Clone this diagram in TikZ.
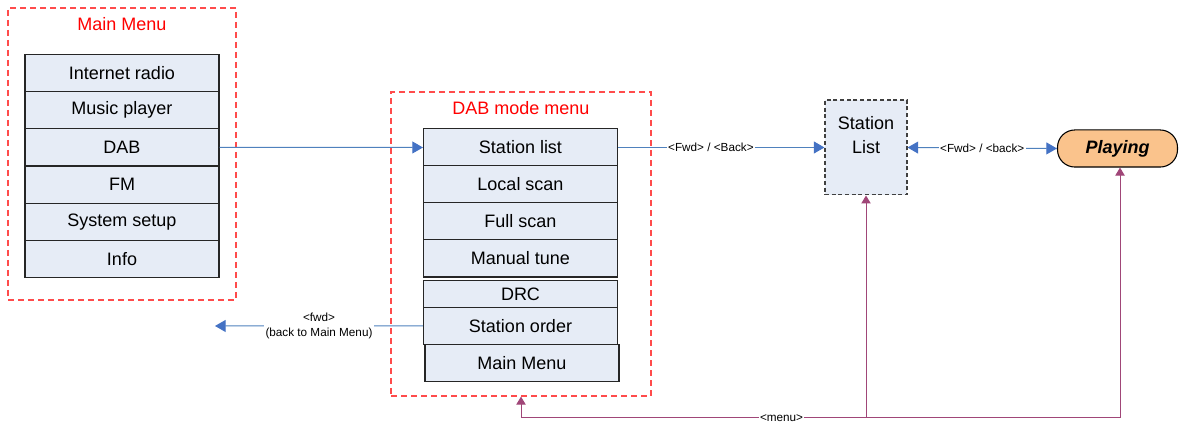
\documentclass[tikz,border=0pt]{standalone}
\usepackage{fontspec}
\setmainfont{Liberation Sans}
\usetikzlibrary{arrows.meta,positioning}
\definecolor{itemfill}{RGB}{230,236,246}
\definecolor{frameRed}{RGB}{255,75,75}
\definecolor{navblue}{RGB}{79,129,189}
\definecolor{navtip}{RGB}{68,114,196}
\definecolor{menupurple}{RGB}{160,70,120}
\definecolor{playfill}{RGB}{250,195,140}
\begin{document}
\begin{tikzpicture}[x=0.75pt,y=-0.75pt,
	item/.style={draw=black!85,fill=itemfill,line width=0.8pt,minimum width=145.5pt,minimum height=27.8pt,inner sep=0pt,font=\fontsize{13.5}{16}\selectfont},
	frame/.style={draw=frameRed,line width=0.9pt,dash pattern=on 4.5pt off 3pt},
	title/.style={text=red,font=\fontsize{13.5}{16}\selectfont},
	lbl/.style={fill=white,text=black,inner sep=1pt,font=\fontsize{8.8}{11}\selectfont,align=center},
	nav/.style={draw=navblue,line width=0.75pt,-{Triangle[length=8pt,width=9pt,color=navtip]}},
	menuarrow/.style={draw=menupurple,line width=0.75pt,-{Triangle[length=6pt,width=7pt]}}]
	\useasboundingbox (0,0) rectangle (1179,423);
	% main menu
	\node[frame,minimum width=171pt,minimum height=219pt] (mainframe) at (122,154) {};
	\node[title] (maintitle) at (122,24) {Main Menu};
	\node[item] (inet) at (122,72.7) {Internet radio};
	\node[item] (music) at (122,110) {Music player};
	\node[item] (dab) at (122,147.3) {DAB};
	\node[item] (fm) at (122,184.6) {FM};
	\node[item] (setup) at (122,221.9) {System setup};
	\node[item] (info) at (122,259.2) {Info};
	% DAB mode menu
	\node[frame,minimum width=195pt,minimum height=228pt] (dabframe) at (521,244) {};
	\node[title] (dabtitle) at (521,108) {DAB mode menu};
	\node[item] (stations) at (520.5,147.5) {Station list};
	\node[item] (local) at (520.5,184.5) {Local scan};
	\node[item] (full) at (520.5,221.5) {Full scan};
	\node[item] (manual) at (520.5,258.5) {Manual tune};
	\node[item,minimum height=21.5pt] (drc) at (520.5,294.5) {DRC};
	\node[item] (order) at (520.5,325.8) {Station order};
	\node[item] (back) at (522,362.8) {Main Menu};
	% station list and playing
	\node[draw=black!75,fill=itemfill,line width=0.8pt,dash pattern=on 3pt off 2pt,minimum width=61.5pt,minimum height=71.2pt] (stlist) at (866,147.5) {};
	\node[align=center,font=\fontsize{13.5}{18}\selectfont] (stlisttext) at (866,135) {Station\\List};
	\node[draw=black,fill=playfill,line width=0.8pt,rounded corners=13pt,minimum width=90pt,minimum height=27.8pt,font=\fontsize{13.5}{16}\selectfont\bfseries\itshape] (playing) at (1117.5,148.5) {Playing};
	% connectors
	\draw[nav] (dab.east) -- (stations.west);
	\draw[nav] (stations.east) -- node[lbl,pos=0.45] {<Fwd> / <Back>} (stlist.west);
	\draw[nav,{Triangle[length=8pt,width=9pt,color=navtip]}-{Triangle[length=8pt,width=9pt,color=navtip]}] (stlist.east) -- node[lbl] {<Fwd> / <back>} (playing.west);
	\coordinate (mainout) at (215,326);
	\draw[nav] (order.west) -- node[lbl] {<fwd>\\(back to Main Menu)} (mainout);
	% menu key
	\coordinate (m1) at (dabframe.south |- 0,418);
	\coordinate (m2) at (866,418);
	\coordinate (m3) at (1120,418);
	\draw[menupurple,line width=0.75pt] (m1) -- node[lbl,pos=0.435] {<menu>} (m3);
	\draw[menuarrow] (m1) -- (dabframe.south);
	\draw[menuarrow] (m2) -- (stlist.south);
	\draw[menuarrow] (m3) -- (m3 |- playing.south);
\end{tikzpicture}
\end{document}
